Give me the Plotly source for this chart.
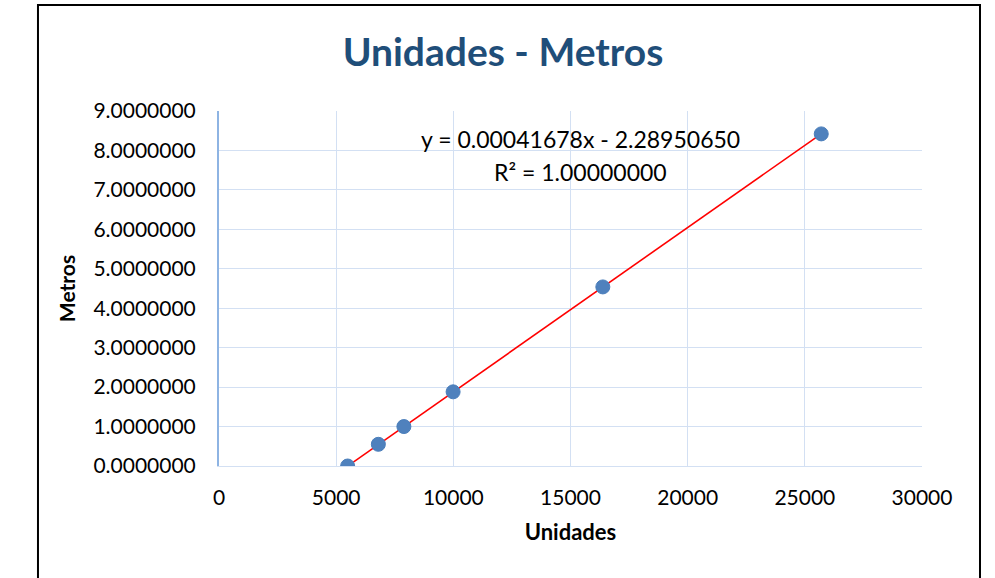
import plotly.graph_objects as go

unidades = [5490, 6800, 7890, 9990, 16380, 25700]
metros = [0.0, 0.55, 1.0, 1.88, 4.54, 8.42]
slope = 0.00041678
intercept = -2.28950650
x_ticks = [0, 5000, 10000, 15000, 20000, 25000, 30000]
y_ticks = [0, 1, 2, 3, 4, 5, 6, 7, 8, 9]
eq_lines = ["y = 0.00041678x - 2.28950650", "R² = 1.00000000"]

FONT = "Lato"
grid = "#D3E0F3"

trend_x = [min(unidades), max(unidades)]
trend_y = [slope * v + intercept for v in trend_x]

fig = go.Figure()
fig.add_trace(go.Scatter(x=trend_x, y=trend_y, mode="lines",
                         line=dict(color="#FF0000", width=1.6), showlegend=False))
fig.add_trace(go.Scatter(x=unidades, y=metros, mode="markers",
                         marker=dict(color="#4F81BD", size=14,
                                     line=dict(color="#4A7EBB", width=1)),
                         showlegend=False))

for i, line in enumerate(eq_lines):
    fig.add_annotation(x=0.5, y=1.0, xref="paper", yref="paper",
                       text=line, showarrow=False, xanchor="center", yanchor="middle",
                       xshift=10, yshift=-28 - 33 * i,
                       font=dict(family=FONT, size=23, color="#000000"))

fig.add_shape(type="rect", xref="paper", yref="paper",
              x0=-0.2575, x1=1.0825, y0=-0.5, y1=1.2986,
              line=dict(color="#000000", width=2), layer="below")

fig.update_layout(
    width=995, height=578,
    margin=dict(l=219, r=73, t=111, b=112),
    paper_bgcolor="white", plot_bgcolor="white",
    title=dict(text="<b>Unidades - Metros</b>", x=503 / 995, xref="container", xanchor="center",
               y=1 - 52 / 578, yanchor="middle",
               font=dict(family=FONT, size=39, color="#1F4E79")),
    xaxis=dict(range=[0, 30000], tickvals=x_ticks, ticktext=[str(v) for v in x_ticks],
               showgrid=True, gridcolor=grid, gridwidth=1.3,
               showline=True, linecolor=grid, linewidth=1.3, zeroline=False,
               ticks="", ticklabelstandoff=13,
               tickfont=dict(family=FONT, size=21, color="#000000"),
               title=dict(text="<b>Unidades</b>", standoff=16,
                          font=dict(family=FONT, size=22, color="#000000"))),
    yaxis=dict(range=[0, 9], tickvals=y_ticks, ticktext=[f"{v:.7f}" for v in y_ticks],
               showgrid=True, gridcolor=grid, gridwidth=1.3,
               showline=True, linecolor="#8EB4E3", linewidth=2, zeroline=False,
               ticks="", ticklabelstandoff=17,
               tickfont=dict(family=FONT, size=21, color="#000000"),
               title=dict(text="<b>Metros</b>", standoff=12,
                          font=dict(family=FONT, size=21, color="#000000"))),
)

fig.write_html("out.html", config={"displayModeBar": False},
               post_script="document.body.style.margin='0px';")
